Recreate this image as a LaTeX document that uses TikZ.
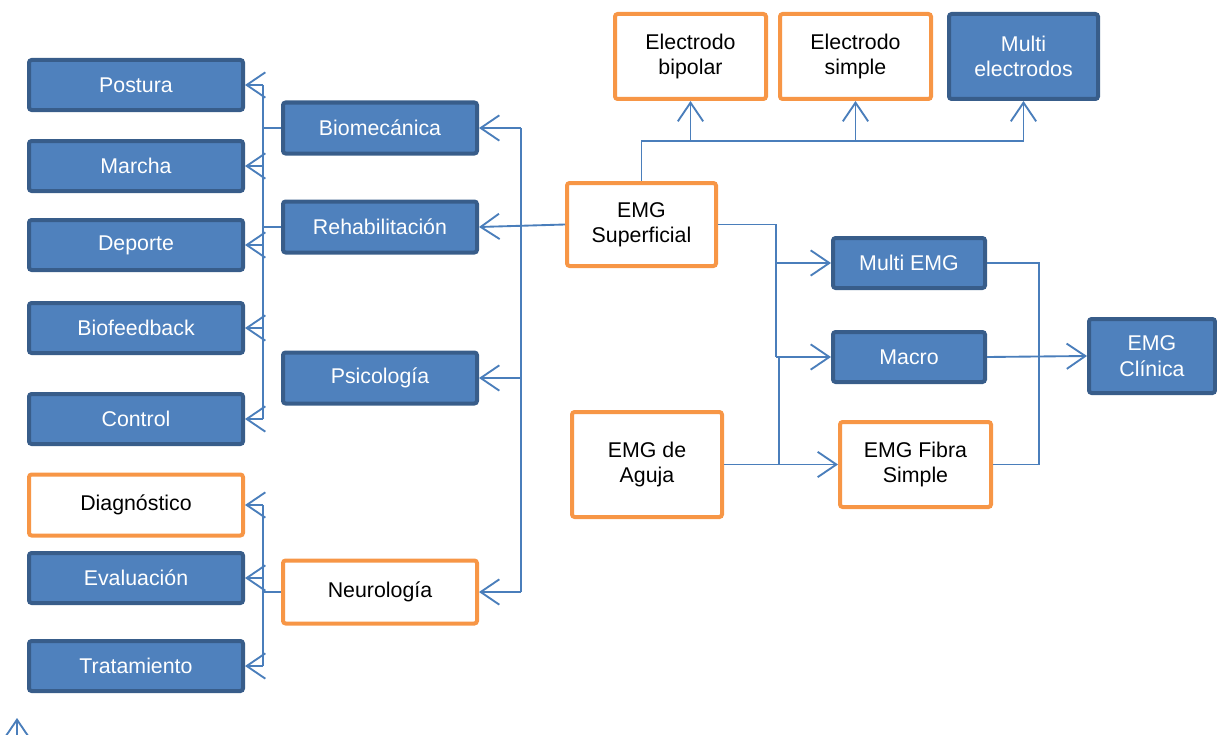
\documentclass[tikz,border=0pt]{standalone}
\usepackage{fontspec}
\setmainfont{Liberation Sans}
\usepackage{xcolor}
\usetikzlibrary{arrows.meta}

\definecolor{bluefill}{HTML}{4F81BD}
\definecolor{blueedge}{HTML}{385D8A}
\definecolor{orangeedge}{HTML}{F79646}
\definecolor{linkblue}{HTML}{4A7EBB}

\begin{document}
\begin{tikzpicture}[
    x=0.75pt, y=-0.75pt,
    bluebox/.style={rectangle, draw=blueedge, fill=bluefill, line width=3pt,
                rounded corners=2pt, text=white, align=center,
                font=\fontsize{16pt}{19pt}\selectfont, inner sep=0pt},
    orangebox/.style={rectangle, draw=orangeedge, fill=white, line width=3pt,
                rounded corners=2pt, text=black, align=center,
                font=\fontsize{16pt}{19pt}\selectfont, inner sep=0pt},
    leftbox/.style={minimum width=160.5pt, minimum height=37.5pt},
    midbox/.style={minimum width=145.5pt, minimum height=38.25pt},
    link/.style={draw=linkblue, line width=1.4pt},
    arrow/.style={link, -{Straight Barb[length=14pt, width=19pt, line width=1.4pt]}}
]
\useasboundingbox (0,0) rectangle (1217,735);

% === LEFT COLUMN ===
\node[bluebox, leftbox] (postura) at (136,85) {Postura};
\node[bluebox, leftbox] (marcha) at (136,166) {Marcha};
\node[bluebox, leftbox] (deporte) at (136,245) {\raisebox{-3pt}{Deporte}};
\node[bluebox, leftbox] (biofeed) at (136,328) {Biofeedback};
\node[bluebox, leftbox] (control) at (136,419) {Control};
\node[orangebox, minimum width=160.5pt, minimum height=45.75pt] (diag) at (136,505) {Diagnóstico};
\node[bluebox, leftbox] (eval) at (136,578) {Evaluación};
\node[bluebox, leftbox] (trat) at (136,666) {Tratamiento};

% === MIDDLE COLUMN ===
\node[bluebox, midbox] (bio) at (380,128) {Biomecánica};
\node[bluebox, midbox] (rehab) at (380,227) {Rehabilitación};
\node[bluebox, midbox] (psico) at (380,378) {Psicología};
\node[orangebox, minimum width=145.5pt, minimum height=47.25pt] (neuro) at (380,592) {Neurología};

% === EMG ===
\node[orangebox, minimum width=111.75pt, minimum height=62.25pt] (sup) at (641.5,224.5) {EMG\\Superficial};
\node[orangebox, minimum width=112.5pt, minimum height=78.75pt] (aguja) at (647,464.5) {EMG de\\Aguja};

% === ELECTRODES ===
\node[orangebox, minimum width=113.25pt, minimum height=63.75pt] (bipolar) at (690.5,56.5) {Electrodo\\bipolar};
\node[orangebox, minimum width=113.25pt, minimum height=63.75pt] (simple) at (855.5,56.5) {Electrodo\\simple};
\node[bluebox, minimum width=111.75pt, minimum height=63.75pt] (multiel) at (1023.5,56.5) {Multi\\electrodos};

% === TECHNIQUES ===
\node[bluebox, minimum width=114pt, minimum height=37.5pt] (memg) at (909,263) {Multi EMG};
\node[bluebox, minimum width=114pt, minimum height=37.5pt] (macro) at (909,357) {Macro};
\node[orangebox, minimum width=113.25pt, minimum height=63.75pt] (fibra) at (915.5,464.5) {EMG Fibra\\Simple};
\node[bluebox, minimum width=94.5pt, minimum height=55.5pt] (clinica) at (1152,356) {EMG\\Clínica};

% === BUSES ===
\coordinate (lbus) at (263,0);
\coordinate (rbus) at (521,0);
\coordinate (ebar) at (641,141);
\coordinate (sbus) at (776,0);
\coordinate (abus) at (779,0);
\coordinate (cbus) at (1039,0);
\coordinate (strayA) at (17,760);
\coordinate (strayB) at (17,718);

% === ARROWS ===
\draw[link] (bio.west) -- (bio.west -| lbus);
\draw[link] (rehab.west) -- (rehab.west -| lbus);
\draw[link] (postura.east -| lbus) -- (control.east -| lbus);
\draw[arrow] (postura.east -| lbus) -- (postura.east);
\draw[arrow] (marcha.east -| lbus) -- (marcha.east);
\draw[arrow] (deporte.east -| lbus) -- (deporte.east);
\draw[arrow] (biofeed.east -| lbus) -- (biofeed.east);
\draw[arrow] (control.east -| lbus) -- (control.east);

\draw[link] (neuro.west) -- (neuro.west -| lbus);
\draw[link] (diag.east -| lbus) -- (trat.east -| lbus);
\draw[arrow] (diag.east -| lbus) -- (diag.east);
\draw[arrow] (eval.east -| lbus) -- (eval.east);
\draw[arrow] (trat.east -| lbus) -- (trat.east);

\draw[arrow] (sup.west) -- (rehab.east);
\draw[link] (bio.east -| rbus) -- (neuro.east -| rbus);
\draw[arrow] (bio.east -| rbus) -- (bio.east);
\draw[arrow] (psico.east -| rbus) -- (psico.east);
\draw[arrow] (neuro.east -| rbus) -- (neuro.east);

\draw[link] (sup.north) -- (sup.north |- ebar) -- (multiel.south |- ebar);
\draw[arrow] (bipolar.south |- ebar) -- (bipolar.south);
\draw[arrow] (simple.south |- ebar) -- (simple.south);
\draw[arrow] (multiel.south |- ebar) -- (multiel.south);

\draw[link] (sup.east) -- (sup.east -| sbus) -- (macro.west -| sbus);
\draw[arrow] (memg.west -| sbus) -- (memg.west);
\draw[arrow] (macro.west -| sbus) -- (macro.west);
\draw[arrow] (aguja.east) -- (fibra.west);
\draw[link] (aguja.east -| abus) -- (macro.west -| abus);

\draw[link] (memg.east) -- (memg.east -| cbus) -- (fibra.east -| cbus) -- (fibra.east);
\draw[arrow] (macro.east) -- (clinica.west);

\draw[arrow] (strayA) -- (strayB);

\end{tikzpicture}
\end{document}
